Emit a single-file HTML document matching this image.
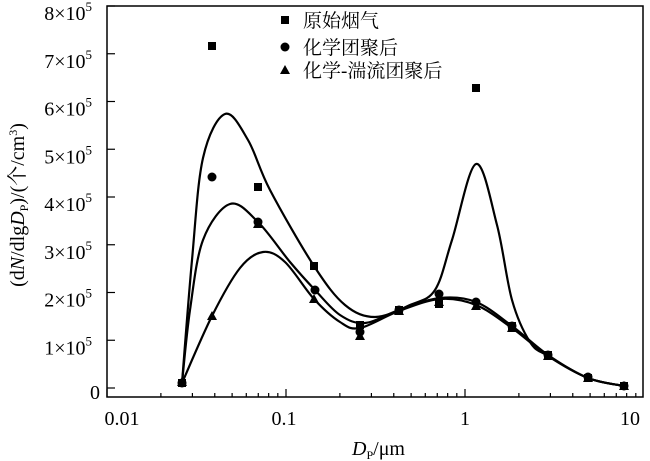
<!DOCTYPE html>
<html><head><meta charset="utf-8"><style>
body{margin:0;background:#fff}
svg{display:block}
text{font-family:"Liberation Serif","Noto Serif CJK SC",serif;fill:#000}
.cjk{font-family:"Liberation Serif","Noto Serif CJK SC",serif}
</style></head><body>
<svg width="650" height="461" viewBox="0 0 650 461" xmlns="http://www.w3.org/2000/svg">
<rect x="107" y="6" width="536" height="391" fill="none" stroke="#000" stroke-width="1.5"/>
<g stroke="#000" stroke-width="1.2" id="ticks"></g>
<g font-size="20" text-anchor="end" id="ylab"></g>
<g font-size="20" text-anchor="middle">
<text x="122" y="425">0.01</text><text x="284" y="425">0.1</text><text x="465" y="425">1</text><text x="630" y="425">10</text>
</g>
<text x="352" y="455" font-size="20"><tspan font-style="italic">D</tspan><tspan font-size="12" dy="4">P</tspan><tspan dy="-4">/μm</tspan></text>
<text transform="translate(24,205) rotate(-90)" font-size="20" text-anchor="middle">(d<tspan font-style="italic">N</tspan>/dlg<tspan font-style="italic">D</tspan><tspan font-size="12" dy="4">P</tspan><tspan dy="-4">)/(</tspan><tspan class="cjk">个</tspan>/cm<tspan font-size="12" dy="-7">3</tspan><tspan dy="7">)</tspan></text>
<g font-size="19">
<rect x="281" y="16" width="8" height="8"/><text class="cjk" x="303" y="27">原始烟气</text>
<circle cx="285" cy="47" r="4.5"/><text class="cjk" x="303" y="54">化学团聚后</text>
<polygon points="285,65 290,74 280,74"/><text class="cjk" x="303" y="77">化学-湍流团聚后</text>
</g>
<g fill="none" stroke="#000" stroke-width="2.2" id="curves"></g>
<g id="marks"></g>
</svg>
<script>
var ns="http://www.w3.org/2000/svg";
function el(p,t,a){var e=document.createElementNS(ns,t);for(var k in a)e.setAttribute(k,a[k]);p.appendChild(e);return e;}
var tk=document.getElementById('ticks');
var X=function(v){return 107+179*Math.log10(v/0.01);};
[0.01,0.1,1,10].forEach(function(d){for(var m=1;m<10;m++){var v=d*m;if(v>10.01)break;var x=X(v);if(x>643)continue;var l=m==1?8:4;el(tk,'line',{x1:x,y1:397,x2:x,y2:397-l});}});
var yl=document.getElementById('ylab');
for(var i=0;i<=8;i++){var y=388-47.75*i;el(tk,'line',{x1:107,y1:y,x2:115,y2:y});
var t=el(yl,'text',{x:92,y:y+14});
if(i==0){t.setAttribute('x',100);t.setAttribute('y',y+11);t.textContent='0';}else{t.innerHTML=i+'×10<tspan font-size="13" dy="-9">5</tspan>';}}
function cr(p){var d='M'+p[0][0]+','+p[0][1];for(var i=0;i<p.length-1;i++){var a=p[i-1]||p[i],b=p[i],c=p[i+1],e=p[i+2]||c;
d+=' C'+(b[0]+(c[0]-a[0])/6)+','+(b[1]+(c[1]-a[1])/6)+' '+(c[0]-(e[0]-b[0])/6)+','+(c[1]-(e[1]-b[1])/6)+' '+c[0]+','+c[1];}return d;}
var cv=document.getElementById('curves');
var S=[[182,383],[192,260],[203,158],[225,114],[248,140],[270,190],[314,266],[345,305],[375,317],[410,305],[435,290],[452,240],[476,164],[497,225],[512,300],[530,342],[548,356],[588,378],[624,386]];
var C=[[182,383],[190,310],[203,240],[230,204],[258,222],[290,262],[315,290],[340,315],[365,323],[399,310],[440,298],[476,302],[512,326],[548,355],[588,378],[624,386]];
var T=[[182,383],[212,316],[240,268],[263,252],[285,262],[314,299],[340,322],[360,328],[399,311],[440,299],[476,305],[512,328],[548,356],[588,378],[624,386]];
[S,C,T].forEach(function(p){el(cv,'path',{d:cr(p)});});
var mk=document.getElementById('marks');
[[182,383],[212,46],[258,187],[314,266],[360,325],[399,310],[439,304],[476,88],[512,326],[548,355],[588,378],[624,386]].forEach(function(p){el(mk,'rect',{x:p[0]-4,y:p[1]-4,width:8,height:8});});
[[182,383],[212,177],[258,222],[315,290],[360,332],[399,310],[439,294],[476,302],[512,326],[548,355],[588,377],[624,386]].forEach(function(p){el(mk,'circle',{cx:p[0],cy:p[1],r:4.5});});
[[182,382],[212,316],[258,224],[314,299],[360,336],[399,311],[439,302],[476,306],[512,328],[548,356],[588,378],[624,386]].forEach(function(p){el(mk,'polygon',{points:p[0]+','+(p[1]-5)+' '+(p[0]+5)+','+(p[1]+4)+' '+(p[0]-5)+','+(p[1]+4)});});
</script>
</body></html>
